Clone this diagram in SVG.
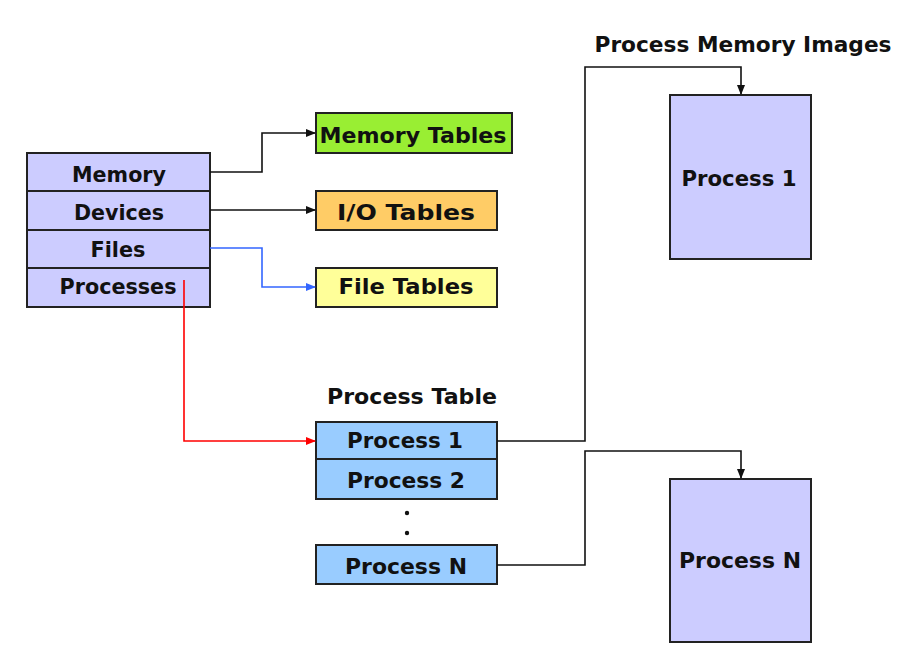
<svg xmlns="http://www.w3.org/2000/svg" width="911" height="664" viewBox="0 0 911 664">
<style>
.t{font-family:"DejaVu Sans","Liberation Sans",sans-serif;font-weight:bold;font-size:22px;fill:#111;text-anchor:middle}
.box{stroke:#222;stroke-width:2}
.lav{fill:#CCCCFF}
.pb{fill:#99CCFF}
.c{fill:none;stroke-width:1.6}
</style>
<defs>
<marker id="ak" markerWidth="10" markerHeight="8" refX="9" refY="4" orient="auto" markerUnits="userSpaceOnUse"><path d="M0,0 L10,4 L0,8 Z" fill="#111"/></marker>
<marker id="ab" markerWidth="10" markerHeight="8" refX="9" refY="4" orient="auto" markerUnits="userSpaceOnUse"><path d="M0,0 L10,4 L0,8 Z" fill="#3366FF"/></marker>
<marker id="ar" markerWidth="10" markerHeight="8" refX="9" refY="4" orient="auto" markerUnits="userSpaceOnUse"><path d="M0,0 L10,4 L0,8 Z" fill="#FF0000"/></marker>
</defs>
<rect width="911" height="664" fill="#fff"/>

<g id="resource-table">
<rect class="box lav" x="27" y="153" width="183" height="38"/>
<rect class="box lav" x="27" y="191" width="183" height="39"/>
<rect class="box lav" x="27" y="230" width="183" height="38"/>
<rect class="box lav" x="27" y="268" width="183" height="39"/>
<text class="t" x="119" y="182" textLength="94" lengthAdjust="spacingAndGlyphs">Memory</text>
<text class="t" x="119" y="220" textLength="90" lengthAdjust="spacingAndGlyphs">Devices</text>
<text class="t" x="118" y="257" textLength="55" lengthAdjust="spacingAndGlyphs">Files</text>
<text class="t" x="118" y="294" textLength="117" lengthAdjust="spacingAndGlyphs">Processes</text>
</g>

<g id="memory-tables">
<rect class="box" fill="#99EE33" x="316" y="113" width="196" height="40"/>
<text class="t" x="413" y="143" textLength="187" lengthAdjust="spacingAndGlyphs">Memory Tables</text>
</g>
<g id="io-tables">
<rect class="box" fill="#FFCC66" x="316" y="191" width="181" height="39"/>
<text class="t" x="406" y="220" textLength="138" lengthAdjust="spacingAndGlyphs">I/O Tables</text>
</g>
<g id="file-tables">
<rect class="box" fill="#FFFF99" x="316" y="268" width="181" height="39"/>
<text class="t" x="406" y="294" textLength="135" lengthAdjust="spacingAndGlyphs">File Tables</text>
</g>

<g id="process-table">
<text class="t" x="412" y="404" textLength="170" lengthAdjust="spacingAndGlyphs">Process Table</text>
<rect class="box pb" x="316" y="422" width="181" height="37"/>
<rect class="box pb" x="316" y="459" width="181" height="40"/>
<rect class="box pb" x="316" y="545" width="181" height="39"/>
<text class="t" x="405" y="448" textLength="116" lengthAdjust="spacingAndGlyphs">Process 1</text>
<text class="t" x="406" y="488" textLength="118" lengthAdjust="spacingAndGlyphs">Process 2</text>
<circle cx="407" cy="513" r="2.2" fill="#111"/>
<circle cx="407" cy="533" r="2.2" fill="#111"/>
<text class="t" x="406" y="574" textLength="122" lengthAdjust="spacingAndGlyphs">Process N</text>
</g>

<g id="memory-images">
<text class="t" x="743" y="52" textLength="297" lengthAdjust="spacingAndGlyphs">Process Memory Images</text>
</g>
<g id="image-process-1">
<rect class="box lav" x="670" y="95" width="141" height="164"/>
<text class="t" x="739" y="186" textLength="115" lengthAdjust="spacingAndGlyphs">Process 1</text>
</g>
<g id="image-process-n">
<rect class="box lav" x="670" y="479" width="141" height="163"/>
<text class="t" x="740" y="568" textLength="122" lengthAdjust="spacingAndGlyphs">Process N</text>
</g>

<g id="connectors">
<path class="c" stroke="#111" d="M210,172 H262 V133 H315" marker-end="url(#ak)"/>
<path class="c" stroke="#111" d="M210,210 H315" marker-end="url(#ak)"/>
<path class="c" stroke="#3366FF" d="M210,248 H262 V287 H315" marker-end="url(#ab)"/>
<path class="c" stroke="#FF0000" d="M184,280 V441 H315" marker-end="url(#ar)"/>
<path class="c" stroke="#111" d="M497,441 H585 V67 H741 V94" marker-end="url(#ak)"/>
<path class="c" stroke="#111" d="M497,565 H585 V451 H741 V478" marker-end="url(#ak)"/>
</g>
</svg>
